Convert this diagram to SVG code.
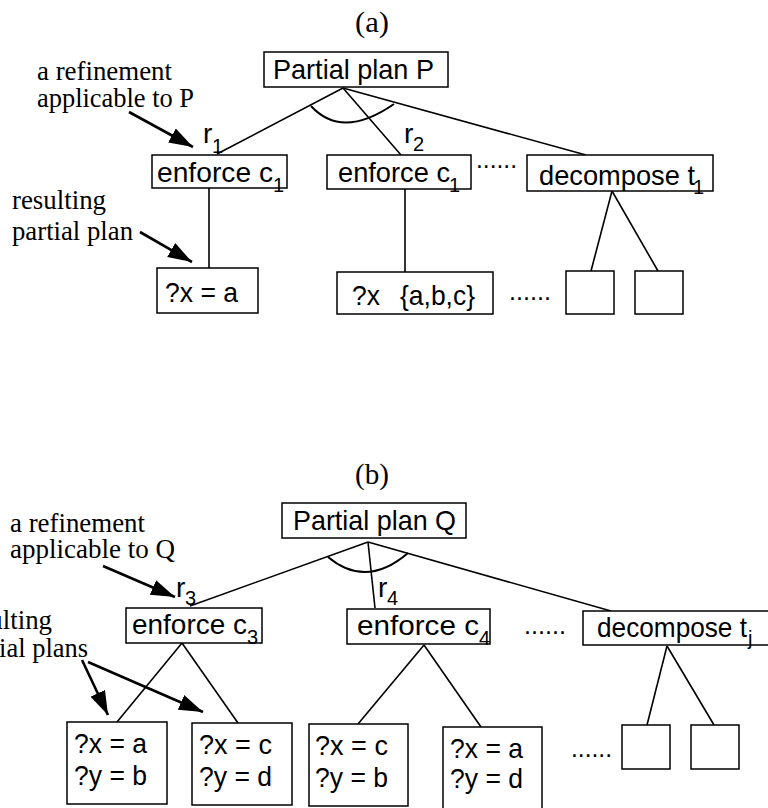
<svg xmlns="http://www.w3.org/2000/svg" width="768" height="808" viewBox="0 0 768 808">
  <style>
    .box { fill: #fff; stroke: #000; stroke-width: 1.5; }
    .edge { fill: none; stroke: #000; stroke-width: 1.6; }
    .arc { fill: none; stroke: #000; stroke-width: 2; }
    .ptr { fill: none; stroke: #000; stroke-width: 2.6; marker-end: url(#head); }
    .sans { font-family: "Liberation Sans", Arial, Helvetica, sans-serif; font-size: 28px; fill: #000; }
    .dots { font-family: "Liberation Sans", Arial, Helvetica, sans-serif; font-size: 25px; fill: #000; }
    .sub { font-family: "Liberation Sans", Arial, Helvetica, sans-serif; font-size: 20px; fill: #000; }
    .serif { font-family: "Liberation Serif", "Times New Roman", serif; font-size: 27px; fill: #000; }
    .title { font-family: "Liberation Serif", "Times New Roman", serif; font-size: 29px; fill: #000; }
  </style>
  <defs>
    <marker id="head" markerUnits="userSpaceOnUse" markerWidth="26" markerHeight="18" refX="24" refY="8" orient="auto">
      <path d="M0,0 L24,8 L0,16 z" fill="#000"/>
    </marker>
  </defs>

  <!-- ===== (a) ===== -->
  <text class="title" x="355" y="32" textLength="34" lengthAdjust="spacingAndGlyphs">(a)</text>

  <g id="connectors-a">
    <line class="edge" x1="343" y1="88" x2="217" y2="154"/>
    <line class="edge" x1="343" y1="88" x2="401" y2="155"/>
    <line class="edge" x1="343" y1="88" x2="586" y2="155"/>
    <path class="arc" d="M311,106 Q342,140 394,104"/>
    <line class="edge" x1="209" y1="188" x2="209" y2="268"/>
    <line class="edge" x1="405" y1="189" x2="405" y2="272"/>
    <line class="edge" x1="612" y1="191" x2="591" y2="271"/>
    <line class="edge" x1="612" y1="191" x2="658" y2="271"/>
    <line class="ptr" x1="129" y1="112" x2="193" y2="147"/>
    <line class="ptr" x1="140" y1="232" x2="192" y2="262"/>
  </g>

  <g id="note-a-refinement">
    <text class="serif" x="37" y="80" textLength="135" lengthAdjust="spacingAndGlyphs">a refinement</text>
    <text class="serif" x="37" y="107" textLength="157" lengthAdjust="spacingAndGlyphs">applicable to P</text>
  </g>
  <g id="note-a-result">
    <text class="serif" x="12" y="209" textLength="94" lengthAdjust="spacingAndGlyphs">resulting</text>
    <text class="serif" x="12" y="240" textLength="121" lengthAdjust="spacingAndGlyphs">partial plan</text>
  </g>

  <g id="labels-a">
    <text class="sans" x="203" y="143">r</text><text class="sub" x="212" y="153">1</text>
    <text class="sans" x="404" y="143">r</text><text class="sub" x="413" y="151">2</text>
  </g>

  <g id="node-P">
    <rect class="box" x="264" y="52" width="184" height="35"/>
    <text class="sans" x="273" y="79" textLength="161" lengthAdjust="spacingAndGlyphs">Partial plan P</text>
  </g>
  <g id="node-enforce-c1-a">
    <rect class="box" x="152" y="155" width="135" height="33"/>
    <text class="sans" x="157" y="182" textLength="116" lengthAdjust="spacingAndGlyphs">enforce c</text>
    <text class="sub" x="273" y="192">1</text>
  </g>
  <g id="node-enforce-c1-b">
    <rect class="box" x="327" y="155" width="144" height="34"/>
    <text class="sans" x="338" y="182" textLength="112" lengthAdjust="spacingAndGlyphs">enforce c</text>
    <text class="sub" x="449" y="192">1</text>
  </g>
  <text class="dots" x="476" y="168" textLength="41" lengthAdjust="spacingAndGlyphs">......</text>
  <g id="node-decompose-t1">
    <rect class="box" x="527" y="155" width="186" height="36"/>
    <text class="sans" x="539" y="185" textLength="156" lengthAdjust="spacingAndGlyphs">decompose t</text>
    <text class="sub" x="693" y="194">1</text>
  </g>
  <g id="node-x-a">
    <rect class="box" x="157" y="268" width="101" height="45"/>
    <text class="sans" x="165" y="302" textLength="73" lengthAdjust="spacingAndGlyphs">?x = a</text>
  </g>
  <g id="node-x-abc">
    <rect class="box" x="337" y="272" width="156" height="42"/>
    <text class="sans" x="352" y="305" textLength="28" lengthAdjust="spacingAndGlyphs">?x</text>
    <text class="sans" x="400" y="305" textLength="75" lengthAdjust="spacingAndGlyphs">{a,b,c}</text>
  </g>
  <text class="dots" x="509" y="300" textLength="42" lengthAdjust="spacingAndGlyphs">......</text>
  <g id="node-step-a1"><rect class="box" x="566" y="271" width="48" height="43"/></g>
  <g id="node-step-a2"><rect class="box" x="635" y="271" width="48" height="43"/></g>

  <!-- ===== (b) ===== -->
  <text class="title" x="355" y="484" textLength="34" lengthAdjust="spacingAndGlyphs">(b)</text>

  <g id="connectors-b">
    <line class="edge" x1="368" y1="542" x2="190" y2="606"/>
    <line class="edge" x1="368" y1="542" x2="375" y2="608"/>
    <line class="edge" x1="368" y1="542" x2="611" y2="611"/>
    <path class="arc" d="M328,557 Q366,589 408,553"/>
    <line class="edge" x1="182" y1="643" x2="117" y2="722"/>
    <line class="edge" x1="182" y1="643" x2="238" y2="723"/>
    <line class="edge" x1="424" y1="645" x2="358" y2="724"/>
    <line class="edge" x1="424" y1="645" x2="481" y2="727"/>
    <line class="edge" x1="667" y1="646" x2="647" y2="725"/>
    <line class="edge" x1="667" y1="646" x2="714" y2="725"/>
    <line class="ptr" x1="103" y1="566" x2="175" y2="597"/>
    <line class="ptr" x1="82" y1="660" x2="108" y2="715"/>
    <line class="ptr" x1="88" y1="662" x2="203" y2="712"/>
  </g>

  <g id="note-b-refinement">
    <text class="serif" x="10" y="532" textLength="135" lengthAdjust="spacingAndGlyphs">a refinement</text>
    <text class="serif" x="10" y="558" textLength="165" lengthAdjust="spacingAndGlyphs">applicable to Q</text>
  </g>
  <g id="note-b-result">
    <text class="serif" x="-42" y="629" textLength="94" lengthAdjust="spacingAndGlyphs">resulting</text>
    <text class="serif" x="-42" y="657" textLength="130" lengthAdjust="spacingAndGlyphs">partial plans</text>
  </g>

  <g id="labels-b">
    <text class="sans" x="176" y="597">r</text><text class="sub" x="185" y="605">3</text>
    <text class="sans" x="378" y="597">r</text><text class="sub" x="387" y="605">4</text>
  </g>

  <g id="node-Q">
    <rect class="box" x="282" y="503" width="184" height="35"/>
    <text class="sans" x="293" y="530" textLength="163" lengthAdjust="spacingAndGlyphs">Partial plan Q</text>
  </g>
  <g id="node-enforce-c3">
    <rect class="box" x="126" y="608" width="136" height="35"/>
    <text class="sans" x="132" y="634" textLength="115" lengthAdjust="spacingAndGlyphs">enforce c</text>
    <text class="sub" x="247" y="644">3</text>
  </g>
  <g id="node-enforce-c4">
    <rect class="box" x="347" y="609" width="143" height="35"/>
    <text class="sans" x="357" y="635" textLength="122" lengthAdjust="spacingAndGlyphs">enforce c</text>
    <text class="sub" x="479" y="645">4</text>
  </g>
  <text class="dots" x="524" y="634" textLength="42" lengthAdjust="spacingAndGlyphs">......</text>
  <g id="node-decompose-tj">
    <rect class="box" x="583" y="611" width="190" height="34"/>
    <text class="sans" x="597" y="637" textLength="150" lengthAdjust="spacingAndGlyphs">decompose t</text>
    <text class="sub" x="748" y="645">j</text>
  </g>
  <g id="node-xa-yb">
    <rect class="box" x="67" y="722" width="100" height="82"/>
    <text class="sans" x="74" y="753" textLength="73" lengthAdjust="spacingAndGlyphs">?x = a</text>
    <text class="sans" x="74" y="785" textLength="73" lengthAdjust="spacingAndGlyphs">?y = b</text>
  </g>
  <g id="node-xc-yd">
    <rect class="box" x="192" y="723" width="100" height="82"/>
    <text class="sans" x="199" y="754" textLength="73" lengthAdjust="spacingAndGlyphs">?x = c</text>
    <text class="sans" x="199" y="786" textLength="73" lengthAdjust="spacingAndGlyphs">?y = d</text>
  </g>
  <g id="node-xc-yb">
    <rect class="box" x="309" y="724" width="99" height="82"/>
    <text class="sans" x="315" y="755" textLength="73" lengthAdjust="spacingAndGlyphs">?x = c</text>
    <text class="sans" x="315" y="787" textLength="73" lengthAdjust="spacingAndGlyphs">?y = b</text>
  </g>
  <g id="node-xa-yd">
    <rect class="box" x="443" y="727" width="99" height="86"/>
    <text class="sans" x="450" y="758" textLength="73" lengthAdjust="spacingAndGlyphs">?x = a</text>
    <text class="sans" x="450" y="788" textLength="73" lengthAdjust="spacingAndGlyphs">?y = d</text>
  </g>
  <text class="dots" x="571" y="757" textLength="41" lengthAdjust="spacingAndGlyphs">......</text>
  <g id="node-step-b1"><rect class="box" x="622" y="725" width="48" height="44"/></g>
  <g id="node-step-b2"><rect class="box" x="691" y="725" width="48" height="44"/></g>
</svg>
